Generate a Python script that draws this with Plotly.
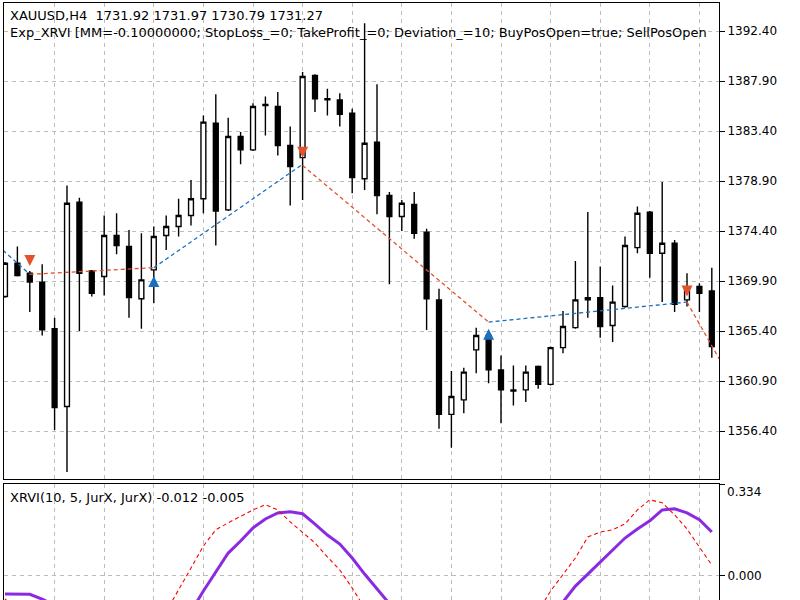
import plotly.graph_objects as go

# ---------------- data ----------------
bars = list(range(58))
opens = [1368.5, 1371.5, 1370.6, 1369.8, 1365.6, 1358.6, 1377.0, 1370.8, 1370.3, 1374.0,
         1373.0, 1368.3, 1370.9, 1374.0, 1374.8, 1375.8, 1377.3, 1384.1, 1376.3, 1382.9,
         1381.7, 1385.8, 1385.6, 1382.1, 1381.0, 1388.4, 1386.3, 1386.2, 1385.0, 1379.1,
         1382.4, 1377.6, 1375.7, 1376.8, 1374.3, 1368.2, 1357.9, 1359.2, 1363.7, 1365.0,
         1361.9, 1360.1, 1360.1, 1362.2, 1360.6, 1363.9, 1365.7, 1368.4, 1368.4, 1365.9,
         1367.6, 1372.9, 1376.1, 1372.4, 1373.3, 1368.2, 1369.4, 1369.0]
highs = [1371.6, 1373.0, 1370.8, 1371.4, 1366.6, 1378.5, 1377.4, 1370.9, 1375.8, 1376.0,
         1374.5, 1374.2, 1374.8, 1375.8, 1377.3, 1379.0, 1384.8, 1386.7, 1384.6, 1383.3,
         1385.9, 1386.5, 1386.9, 1383.8, 1388.7, 1388.5, 1387.2, 1386.8, 1385.4, 1393.1,
         1387.6, 1377.9, 1377.2, 1377.9, 1374.6, 1369.2, 1361.8, 1362.1, 1365.7, 1365.1,
         1363.2, 1362.3, 1362.3, 1362.3, 1364.0, 1367.2, 1371.7, 1376.1, 1371.2, 1369.5,
         1373.9, 1376.6, 1376.2, 1378.8, 1373.6, 1370.6, 1369.7, 1371.1]
lows = [1368.4, 1370.3, 1367.1, 1365.0, 1356.5, 1352.7, 1365.4, 1368.5, 1368.6, 1372.3,
        1366.6, 1365.6, 1367.9, 1372.7, 1373.9, 1374.9, 1376.0, 1373.1, 1376.2, 1380.4,
        1381.6, 1383.0, 1381.2, 1376.7, 1377.2, 1385.1, 1384.8, 1383.8, 1377.8, 1378.1,
        1375.9, 1369.6, 1374.4, 1373.7, 1365.5, 1356.6, 1354.9, 1358.0, 1361.6, 1360.7,
        1357.1, 1358.7, 1359.0, 1360.2, 1360.5, 1363.4, 1365.6, 1366.6, 1364.8, 1364.4,
        1367.5, 1372.4, 1370.2, 1368.0, 1367.1, 1367.6, 1367.1, 1363.0]
closes = [1371.5, 1370.4, 1369.8, 1365.5, 1358.5, 1376.9, 1370.6, 1368.8, 1374.0, 1373.1,
          1368.4, 1370.0, 1373.9, 1374.8, 1375.8, 1377.3, 1384.2, 1376.2, 1382.9, 1381.7,
          1385.6, 1385.7, 1382.1, 1380.2, 1388.3, 1386.3, 1386.2, 1384.9, 1379.2, 1382.3,
          1377.6, 1375.7, 1376.9, 1374.2, 1368.3, 1357.9, 1359.5, 1361.7, 1365.0, 1361.9,
          1360.1, 1360.0, 1361.7, 1360.6, 1363.9, 1365.8, 1368.2, 1368.2, 1365.8, 1368.0,
          1373.1, 1376.0, 1372.4, 1373.3, 1367.8, 1369.2, 1368.8, 1364.0]

# trades: (bar, price) pairs for buy (blue) and sell (red) position lines
buy_segments = [[(-1, 1373.5), (2, 1370.5)],
                [(12, 1371.1), (24, 1380.4)],
                [(39, 1366.2), (55, 1368.0)]]
sell_segments = [[(2, 1370.5), (12, 1371.1)],
                 [(24, 1380.3), (39, 1366.2)],
                 [(55, 1368.0), (58, 1362.1)]]
sell_arrow_bars = [2, 24, 55]
sell_arrow_prices = [1371.25, 1381.0, 1368.5]
buy_arrow_bars = [12, 39]
buy_arrow_prices = [1370.35, 1365.6]

# XRVI indicator
xrvi_main = [-0.066, -0.066, -0.067, -0.085, -0.105, -0.13, -0.16, -0.19, -0.22, -0.24,
             -0.25, -0.25, -0.235, -0.21, -0.175, -0.13, -0.055, 0.015, 0.084, 0.128,
             0.176, 0.209, 0.231, 0.235, 0.228, 0.19, 0.15, 0.117, 0.066, 0.007,
             -0.051, -0.106, -0.16, -0.21, -0.25, -0.29, -0.32, -0.33, -0.33, -0.32,
             -0.30, -0.27, -0.23, -0.18, -0.13, -0.095, -0.037, 0.007, 0.051, 0.095,
             0.139, 0.172, 0.202, 0.242, 0.246, 0.231, 0.206, 0.161]
xrvi_signal = [-0.084, -0.12, -0.16, -0.21, -0.26, -0.30, -0.33, -0.35, -0.36, -0.35,
               -0.32, -0.27, -0.21, -0.13, -0.048, 0.029, 0.110, 0.169, 0.195, 0.220,
               0.242, 0.261, 0.242, 0.198, 0.161, 0.121, 0.070, 0.022, -0.044, -0.125,
               -0.19, -0.25, -0.30, -0.33, -0.36, -0.38, -0.38, -0.36, -0.33, -0.30,
               -0.27, -0.23, -0.18, -0.13, -0.055, 0.007, 0.066, 0.143, 0.161, 0.169,
               0.191, 0.242, 0.279, 0.268, 0.224, 0.172, 0.106, 0.04]

price_ticks = [1356.40, 1360.90, 1365.40, 1369.90, 1374.40, 1378.90, 1383.40, 1387.90, 1392.40]
ind_ticks = [0.0, 0.334]
grid_bars = list(range(4, 57, 4))

header1 = "XAUUSD,H4  1731.92 1731.97 1730.79 1731.27"
header2 = ("Exp_XRVI [MM=-0.10000000; StopLoss_=0; TakeProfit_=0; Deviation_=10; "
           "BuyPosOpen=true; SellPosOpen")
ind_label = "XRVI(10, 5, JurX, JurX) -0.012 -0.005"

# ---------------- figure ----------------
FONT = "DejaVu Sans"
TXT = 13
TICK = 12
BLUE = "#1B6FC0"
RED = "#E4512B"
GRID = "#BDBDBD"

fig = go.Figure()

fig.add_trace(go.Candlestick(
    x=bars, open=opens, high=highs, low=lows, close=closes,
    increasing=dict(line=dict(color="black", width=1.4), fillcolor="white"),
    decreasing=dict(line=dict(color="black", width=1.4), fillcolor="black"),
    whiskerwidth=0, xaxis="x", yaxis="y", showlegend=False, hoverinfo="skip"))

for seg in buy_segments:
    fig.add_trace(go.Scatter(x=[p[0] for p in seg], y=[p[1] for p in seg], mode="lines",
                             line=dict(color=BLUE, width=1.3, dash="4px,3px"),
                             xaxis="x", yaxis="y", showlegend=False, hoverinfo="skip"))
for seg in sell_segments:
    fig.add_trace(go.Scatter(x=[p[0] for p in seg], y=[p[1] for p in seg], mode="lines",
                             line=dict(color=RED, width=1.3, dash="4px,3px"),
                             xaxis="x", yaxis="y", showlegend=False, hoverinfo="skip"))

fig.add_trace(go.Scatter(x=sell_arrow_bars, y=sell_arrow_prices, mode="markers",
                         marker=dict(symbol="arrow-down", size=11, color=RED,
                                     line=dict(width=0)),
                         xaxis="x", yaxis="y", showlegend=False, hoverinfo="skip"))
fig.add_trace(go.Scatter(x=buy_arrow_bars, y=buy_arrow_prices, mode="markers",
                         marker=dict(symbol="arrow-up", size=11, color=BLUE,
                                     line=dict(width=0)),
                         xaxis="x", yaxis="y", showlegend=False, hoverinfo="skip"))

fig.add_trace(go.Scatter(x=bars, y=xrvi_main, mode="lines",
                         line=dict(color="#8A2BE2", width=3),
                         xaxis="x2", yaxis="y2", showlegend=False, hoverinfo="skip"))
fig.add_trace(go.Scatter(x=bars, y=xrvi_signal, mode="lines",
                         line=dict(color="#FF0000", width=1.1, dash="4px,3px"),
                         xaxis="x2", yaxis="y2", showlegend=False, hoverinfo="skip"))

H = 600
top_m = 3
ph = H - top_m
main_bottom = (H - 479) / ph
ind_top = (H - 484) / ph

xr = [-0.08, 57.58]
axis_common = dict(showline=True, linecolor="black", linewidth=1, mirror=True,
                   zeroline=False, fixedrange=True)

fig.update_layout(
    width=800, height=600,
    margin=dict(l=4, r=81, t=top_m, b=0),
    paper_bgcolor="white", plot_bgcolor="white",
    font=dict(family=FONT, size=TICK, color="black"),
    showlegend=False,
    boxgap=0.44,
    xaxis=dict(domain=[0, 1], range=xr, anchor="y", tickvals=grid_bars,
               showticklabels=False, ticks="", showgrid=True, gridcolor=GRID,
               griddash="4px,4px", gridwidth=1, rangeslider=dict(visible=False),
               **axis_common),
    yaxis=dict(domain=[main_bottom, 1], range=[1352.08, 1394.92], anchor="x", side="right",
               tickvals=price_ticks, ticktext=["%.2f" % v for v in price_ticks],
               ticks="outside", ticklen=5, tickcolor="black", showgrid=True,
               gridcolor=GRID, griddash="4px,4px", gridwidth=1,
               tickfont=dict(family=FONT, size=TICK), **axis_common),
    xaxis2=dict(domain=[0, 1], range=xr, anchor="y2", tickvals=grid_bars,
                showticklabels=False, ticks="", showgrid=True, gridcolor=GRID,
                griddash="4px,4px", gridwidth=1, **axis_common),
    yaxis2=dict(domain=[0, ind_top], range=[-0.088, 0.337], anchor="x2", side="right",
                tickvals=ind_ticks, ticktext=["0.000", ""],
                ticks="outside", ticklen=5, tickcolor="black", showgrid=True,
                gridcolor=GRID, griddash="4px,4px", gridwidth=1,
                tickfont=dict(family=FONT, size=TICK), **axis_common),
)

fig.add_annotation(text=header1, xref="paper", yref="paper", x=0, y=1,
                   xanchor="left", yanchor="top", xshift=4, yshift=-3, showarrow=False,
                   align="left", font=dict(family=FONT, size=TXT))
fig.add_annotation(text=header2, xref="paper", yref="paper", x=0, y=1,
                   xanchor="left", yanchor="top", xshift=4, yshift=-20, showarrow=False,
                   align="left", width=706, font=dict(family=FONT, size=TXT))
fig.add_annotation(text=ind_label, xref="paper", yref="paper", x=0, y=ind_top,
                   xanchor="left", yanchor="top", xshift=4, yshift=-4, showarrow=False,
                   align="left", font=dict(family=FONT, size=TXT))
fig.add_annotation(text="%.3f" % ind_ticks[1], xref="paper", yref="y2", x=1, y=ind_ticks[1],
                   xanchor="left", yanchor="middle", xshift=6, yshift=-7, showarrow=False,
                   font=dict(family=FONT, size=TICK))

fig.write_html("out.html")
